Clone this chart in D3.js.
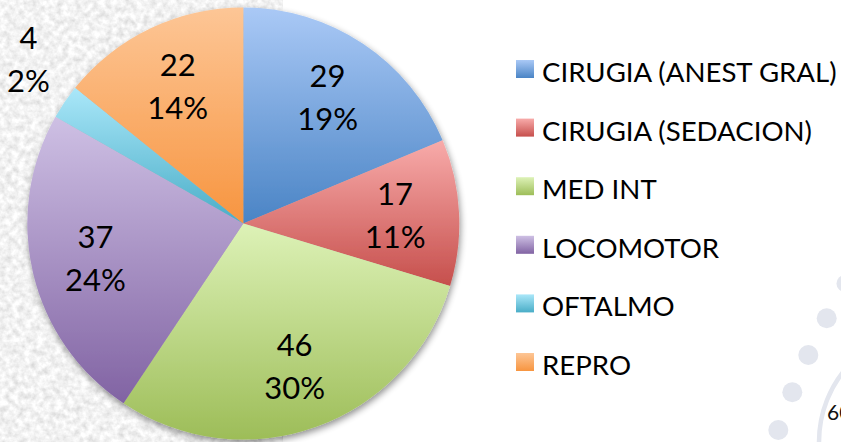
<!DOCTYPE html>
<html>
<head>
<meta charset="utf-8">
<script src="https://cdn.jsdelivr.net/npm/d3@7"></script>
<style>
  html, body { margin: 0; padding: 0; background: #fff; overflow: hidden; }
  svg { display: block; }
  text { font-family: Lato, "Noto Sans", sans-serif; }
</style>
</head>
<body>
<svg id="chart" width="841" height="442"></svg>
<script>
// ---- data ----
const categories = ["CIRUGIA (ANEST GRAL)", "CIRUGIA (SEDACION)", "MED INT", "LOCOMOTOR", "OFTALMO", "REPRO"];
const values = [29, 17, 46, 37, 4, 22];
const percentLabels = ["19%", "11%", "30%", "24%", "2%", "14%"];
const pageNumber = "60";

// ---- styles ----
const lightColors = ["#aac9f6", "#f8abaa", "#ddf2b7", "#cec0e4", "#aae7f9", "#fdc696"];
const darkColors  = ["#4a84c5", "#c64f4c", "#9dbd58", "#8163a3", "#49adc7", "#f79540"];

const W = 841, H = 442;
const cx = 243.3, cy = 223.5, R = 216;

const svg = d3.select("#chart");
const defs = svg.append("defs");

// textured background filter
const tex = defs.append("filter").attr("id", "marble")
  .attr("x", 0).attr("y", 0).attr("width", "100%").attr("height", "100%");
tex.append("feTurbulence").attr("type", "fractalNoise")
  .attr("baseFrequency", "0.16").attr("numOctaves", 3).attr("seed", 7).attr("result", "n");
tex.append("feColorMatrix").attr("in", "n").attr("type", "matrix")
  .attr("values", "0.5 0 0 0 0.64  0.5 0 0 0 0.64  0.5 0 0 0 0.64  0 0 0 0 1");

const shadow = defs.append("filter").attr("id", "shadow")
  .attr("x", "-10%").attr("y", "-10%").attr("width", "125%").attr("height", "125%");
shadow.append("feGaussianBlur").attr("in", "SourceAlpha").attr("stdDeviation", 3.5).attr("result", "b");
shadow.append("feOffset").attr("in", "b").attr("dx", 1).attr("dy", 3).attr("result", "o");
shadow.append("feComponentTransfer").attr("in", "o").attr("result", "s")
  .append("feFuncA").attr("type", "linear").attr("slope", 0.45);
const merge = shadow.append("feMerge");
merge.append("feMergeNode").attr("in", "s");
merge.append("feMergeNode").attr("in", "SourceGraphic");

// gradients
values.forEach((v, i) => {
  const g = defs.append("linearGradient").attr("id", "grad" + i)
    .attr("x1", 0).attr("y1", 0).attr("x2", 0).attr("y2", 1);
  g.append("stop").attr("offset", "0%").attr("stop-color", lightColors[i]);
  g.append("stop").attr("offset", "100%").attr("stop-color", darkColors[i]);
});

// background
svg.append("rect").attr("width", W).attr("height", H).attr("fill", "#fff");
svg.append("rect").attr("x", 0).attr("y", 0).attr("width", 283).attr("height", H)
  .attr("filter", "url(#marble)");

// decorative circles bottom-right
const deco = svg.append("g").attr("fill", "#e3e6ee");
[[845, 283.5, 8.5], [826.7, 318.3, 10], [808.3, 355, 10], [792.3, 392.3, 10], [778.3, 430, 10]]
  .forEach(([x, y, r]) => deco.append("circle").attr("cx", x).attr("cy", y).attr("r", r));
svg.append("circle").attr("cx", 933).attr("cy", 442).attr("r", 114)
  .attr("fill", "none").attr("stroke", "#e3e6ee").attr("stroke-width", 4.5);
svg.append("text").attr("x", 827).attr("y", 420).attr("font-size", 21)
  .attr("fill", "#111").text(pageNumber);

// pie
const pie = d3.pie().sort(null).value(d => d)(values);
const arc = d3.arc().innerRadius(0).outerRadius(R);

const pg = svg.append("g").attr("transform", `translate(${cx},${cy})`);
pg.append("g").attr("filter", "url(#shadow)")
  .selectAll("path").data(pie).join("path")
  .attr("d", arc)
  .attr("fill", (d, i) => `url(#grad${i})`);

// labels
const fs = 31, lineGap = 43;
const total = d3.sum(values);
const lg = pg.append("g").attr("font-size", fs).attr("fill", "#000").attr("text-anchor", "middle");
pie.forEach((d, i) => {
  const a = (d.startAngle + d.endAngle) / 2;
  const ux = Math.sin(a), uy = -Math.cos(a);
  let mx, my;
  if (d.value / total < 0.05) {
    // outside: the nearest corner of the label box sits just outside the rim
    const bw = 43, bh = 65;
    const px = ux * (R + 18), py = uy * (R + 18);
    mx = px + (ux < 0 ? -bw / 2 : bw / 2);
    my = py + (uy < 0 ? -bh / 2 : bh / 2);
  } else {
    const rr = 152;
    mx = ux * rr; my = uy * rr;
  }
  lg.append("text").attr("x", mx).attr("y", my - 10.5).text(values[i]);
  lg.append("text").attr("x", mx).attr("y", my - 10.5 + lineGap).text(percentLabels[i]);
});

// legend
const leg = svg.append("g");
categories.forEach((c, i) => {
  const by = 82 + i * 58.6;
  leg.append("rect").attr("x", 516).attr("y", by - 22).attr("width", 18).attr("height", 18)
    .attr("fill", `url(#grad${i})`);
  leg.append("text").attr("x", 542).attr("y", by).attr("font-size", 27.6).attr("fill", "#000").text(c);
});
</script>
</body>
</html>
